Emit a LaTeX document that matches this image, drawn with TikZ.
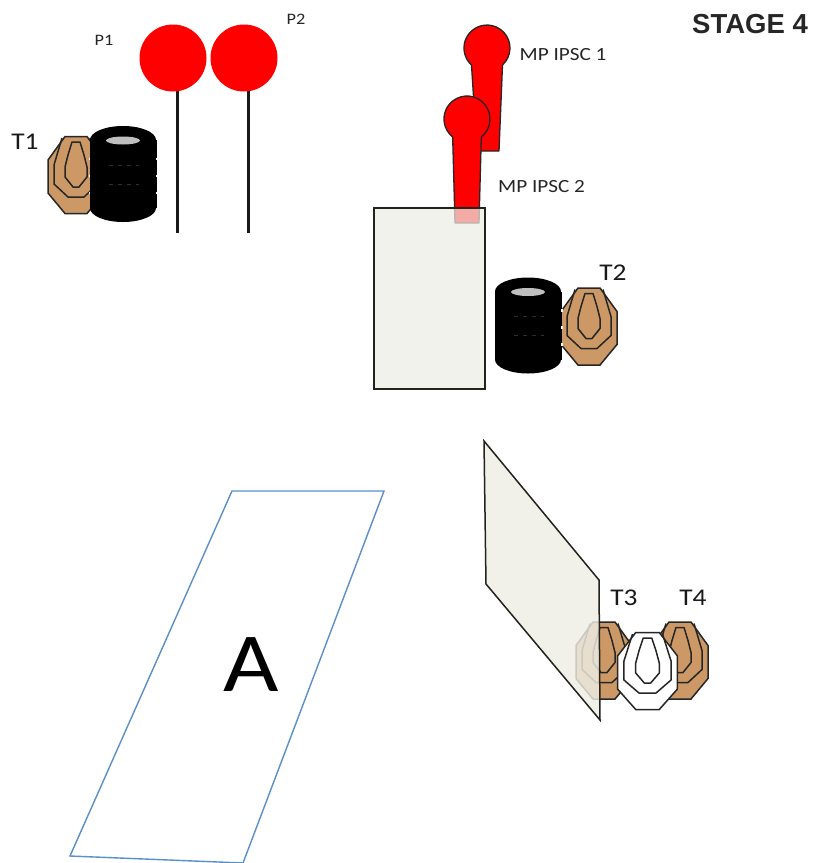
\documentclass[tikz,border=0pt]{standalone}
\usepackage{fontspec}
\setmainfont[FakeStretch=1.14]{Carlito}
\newfontfamily\stagefont{Liberation Sans}
\definecolor{tan}{RGB}{204,153,102}
\definecolor{panel}{RGB}{238,238,230}
\definecolor{zone}{RGB}{91,143,200}
\definecolor{lineg}{RGB}{35,35,30}
\tikzset{
  x=1pt,y=-1pt,
  lab/.style={inner sep=0pt,text=black!85,font=\fontsize{18.6}{20}\selectfont},
  smalllab/.style={inner sep=0pt,text=black!85,font=\fontsize{16}{18}\selectfont},
  tlab/.style={inner sep=0pt,text=black!90,font=\fontsize{24}{26}\selectfont},
  pole/.style={line width=3pt,draw=black!90},
  popper/.style={fill=red,draw=black!85,line width=1.3pt,line join=round},
  cover/.style={fill=panel,fill opacity=.72,draw=none},
  edge/.style={draw=lineg,line width=1.5pt},
  pic line/.style={draw=black!85,line width=1.5pt}
}
\newcommand{\targetshape}[4]{% cx cy fill xscale
  \begin{scope}[shift={(#1,#2)},xscale=#4]
    \draw[pic line,fill=#3,line join=miter] (-11,-38.5)--(11,-38.5)--(28,-15)--(28,18)--(11,38.5)--(-11,38.5)--(-28,18)--(-28,-15)--cycle;
    \draw[pic line,line join=round] (-14,-37)--(-22,-10)--(-22,9)--(-8,22)--(8,22)--(22,9)--(22,-10)--(14,-37);
    \draw[pic line,line join=round] (-4,-33)--(4,-33)--(8,-20)--(11,-8)--(11,2)--(3,12)--(-3,12)--(-11,2)--(-11,-8)--(-8,-20)--cycle;
  \end{scope}}
\newcommand{\tirestack}[2]{% top-left x, top y
  \begin{scope}[shift={(#1,#2)}]
    \fill[black] (34,14) ellipse [x radius=33,y radius=14];
    \fill[black] (0.5,14) rectangle (67.5,82);
    \foreach \yy in {33,50,67}{
      \fill[white] (-.5,\yy-1.2) rectangle (0.8,\yy+1.2);
      \fill[white] (67.2,\yy-1.2) rectangle (68.5,\yy+1.2);
    }
    \fill[black] (34,82) ellipse [x radius=33,y radius=14];
    \fill[black!25] (34,14.5) ellipse [x radius=17,y radius=4];
    \draw[black!82,line width=.6pt,dash pattern=on 4pt off 5pt] (20,39)--(50,39);
    \draw[black!82,line width=.6pt,dash pattern=on 4pt off 5pt] (20,58)--(50,58);
  \end{scope}}
\begin{document}
\begin{tikzpicture}
\useasboundingbox (0,0) rectangle (819,863);
\fill[white] (0,0) rectangle (819,863);

% steel plates
\draw[pole] (177,90)--(177,233);
\draw[pole] (248,90)--(248,233);
\fill[red] (173,58) circle [radius=33.5];
\fill[red] (244,58) circle [radius=33.5];
\node[smalllab] (p1) at (104,40) {P1};
\node[smalllab] (p2) at (296,19) {P2};

% T1 with hard cover
\targetshape{76}{175}{tan}{1}
\tirestack{89}{126}
\node[tlab] (t1) at (25,142) {T1};

% mini poppers
\draw[popper] (502.5,65) arc [start angle=47.6,end angle=-227.6,radius=23] -- (477,151) -- (499,151) -- cycle;
\draw[popper] (481.3,137) arc [start angle=51.5,end angle=-231.5,radius=23] -- (455,223) -- (479,223) -- cycle;
\node[lab,anchor=west] (mp1) at (519.5,55) {MP IPSC 1};
\node[lab,anchor=west] (mp2) at (498,187) {MP IPSC 2};

% upper wall
\fill[cover] (374,208) rectangle (485,389);
\draw[edge] (374,208) rectangle (485,389);

% T2
\targetshape{589}{326.5}{tan}{1}
\tirestack{494}{277.5}
\node[tlab] (t2) at (613,273) {T2};

% T3, T4, no-shoot
\targetshape{604}{660.5}{tan}{1}
\targetshape{680}{660.5}{tan}{1}
\targetshape{647.5}{671}{white}{1.07}
\node[tlab] (t3) at (624,598) {T3};
\node[tlab] (t4) at (693,598) {T4};

% angled wall
\fill[cover,fill opacity=.82] (484,441)--(599,580)--(600,720)--(486,584)--cycle;
\draw[edge] (484,441)--(599,580)--(600,720)--(486,584)--cycle;

% shooting area
\draw[zone,line width=1.4pt] (232,491)--(384,491)--(243,863)--(70,856)--cycle;
\node[inner sep=0pt,font=\fontsize{84}{90}\selectfont] (a) at (251,665) {A};

\node[inner sep=0pt,font=\stagefont\bfseries\fontsize{27.5}{30}\selectfont,text=black!85] (stage) at (750,24) {STAGE 4};
\end{tikzpicture}
\end{document}
